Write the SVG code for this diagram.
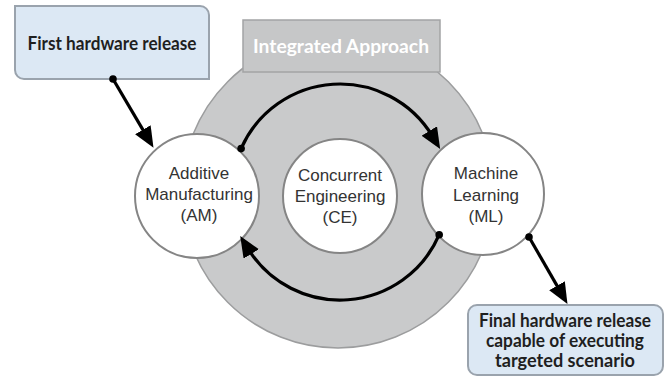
<svg xmlns="http://www.w3.org/2000/svg" width="670" height="378" viewBox="0 0 670 378">
  <style>
    .ring { fill: #c9cacb; stroke: #9c9d9e; stroke-width: 1.5; }
    .hdr { fill: #c6c7c8; stroke: #a3a4a5; stroke-width: 1.5; }
    .hdr-text { font-family: Lato, "Liberation Sans", sans-serif; font-weight: bold; font-size: 19px; fill: #ffffff; text-anchor: middle; }
    .node { fill: #ffffff; stroke: #858585; stroke-width: 2; }
    .node-text { font-family: "Liberation Sans", Arial, sans-serif; font-size: 17px; fill: #333333; text-anchor: middle; }
    .note { fill: #dce8f4; stroke: #9aa3ad; stroke-width: 2; }
    .note-text { font-family: Lato, "Liberation Sans", sans-serif; font-weight: bold; font-size: 18px; fill: #1f1f1f; text-anchor: middle; }
    .link { fill: none; stroke: #000000; stroke-width: 3.2; }
    .dot { fill: #000000; }
  </style>
  <defs>
    <marker id="arrow" markerUnits="userSpaceOnUse" markerWidth="22" markerHeight="20" refX="6" refY="9" orient="auto">
      <path d="M0,0 L21,9 L0,18 Z" fill="#000000"/>
    </marker>
  </defs>

  <!-- Integrated approach: gray disc with header tab -->
  <g id="integrated-approach">
    <circle class="ring" cx="338" cy="192" r="156"/>
    <rect class="hdr" x="243" y="20" width="197" height="52"/>
    <text class="hdr-text" x="341" y="53" textLength="176" lengthAdjust="spacingAndGlyphs">Integrated Approach</text>
  </g>

  <!-- Process nodes -->
  <g id="node-am">
    <circle class="node" cx="197" cy="196" r="62"/>
    <text class="node-text" x="199" y="179">Additive</text>
    <text class="node-text" x="199" y="200">Manufacturing</text>
    <text class="node-text" x="199" y="221">(AM)</text>
  </g>
  <g id="node-ce">
    <circle class="node" cx="340" cy="196" r="57"/>
    <text class="node-text" x="340" y="181">Concurrent</text>
    <text class="node-text" x="340" y="202">Engineering</text>
    <text class="node-text" x="340" y="223">(CE)</text>
  </g>
  <g id="node-ml">
    <circle class="node" cx="483" cy="194" r="61"/>
    <text class="node-text" x="486" y="179">Machine</text>
    <text class="node-text" x="486" y="201">Learning</text>
    <text class="node-text" x="486" y="222">(ML)</text>
  </g>

  <!-- Release notes -->
  <g id="note-first">
    <path class="note" d="M15,6 H200 A9,9 0 0 1 209,15 V79 H24 A9,9 0 0 1 15,70 Z"/>
    <text class="note-text" x="112" y="50" textLength="169" lengthAdjust="spacingAndGlyphs">First hardware release</text>
  </g>
  <g id="note-final">
    <path class="note" d="M468,314 A9,9 0 0 1 477,305 H654 A9,9 0 0 1 663,314 V366 A9,9 0 0 1 654,375 H477 A9,9 0 0 1 468,366 Z"/>
    <text class="note-text" x="565" y="327" textLength="172" lengthAdjust="spacingAndGlyphs">Final hardware release</text>
    <text class="note-text" x="565" y="347" textLength="158" lengthAdjust="spacingAndGlyphs">capable of executing</text>
    <text class="note-text" x="565" y="367" textLength="140" lengthAdjust="spacingAndGlyphs">targeted scenario</text>
  </g>

  <!-- Connectors -->
  <g id="connectors">
    <path class="link" d="M113,79 L145.9,134.9" marker-end="url(#arrow)"/>
    <circle class="dot" cx="113" cy="79" r="3.8"/>
    <path class="link" d="M241.1,148.6 A108,108 0 0 1 432.4,136.1" marker-end="url(#arrow)"/>
    <circle class="dot" cx="241.1" cy="148.6" r="3.8"/>
    <path class="link" d="M439.2,234.7 A108,108 0 0 1 248.1,248.8" marker-end="url(#arrow)"/>
    <circle class="dot" cx="439.2" cy="234.7" r="3.8"/>
    <path class="link" d="M529,237 L560,290.9" marker-end="url(#arrow)"/>
    <circle class="dot" cx="529" cy="237" r="3.8"/>
  </g>
</svg>
